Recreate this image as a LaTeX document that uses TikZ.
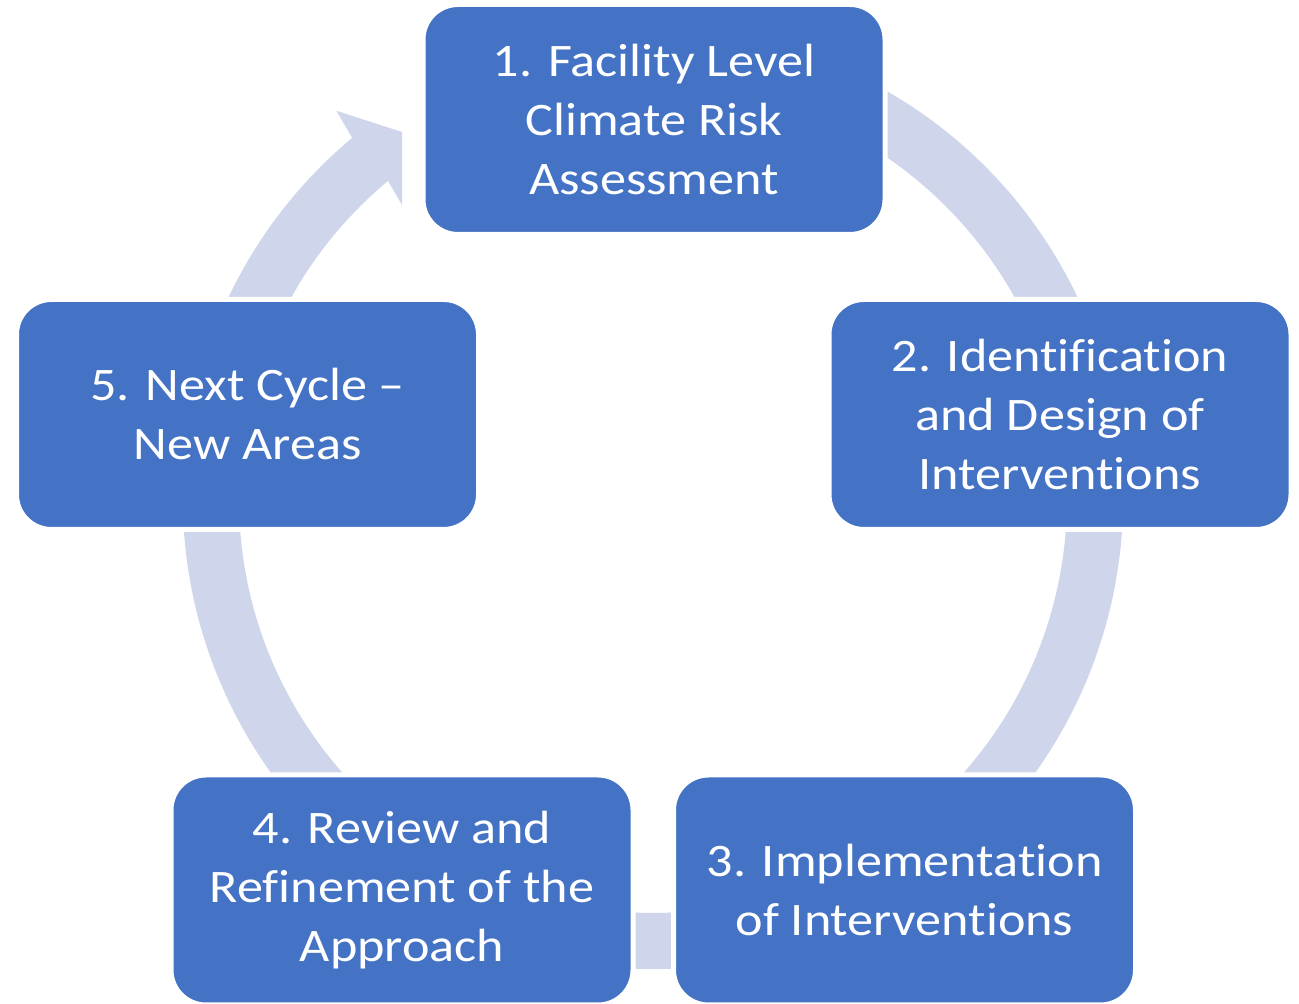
\documentclass[tikz,border=0pt]{standalone}
\usepackage{fontspec}
\setmainfont{Carlito}[FakeStretch=1.12, Ligatures={NoCommon}]
\usetikzlibrary{calc}
\definecolor{boxblue}{HTML}{4472C4}
\definecolor{ringcol}{HTML}{CFD5EA}
\tikzset{
  stagebox/.style={draw=white, line width=2.5pt, fill=boxblue, rounded corners=17.5pt,
    minimum width=231pt, minimum height=115pt, inner sep=0pt, align=center,
    text=white, font=\fontsize{23.3}{29.5}\selectfont},
  ringfill/.style={fill=ringcol}
}
\begin{document}
\begin{tikzpicture}[x=0.5pt,y=0.5pt]
\useasboundingbox (0,0) rectangle (1299,1004);
\coordinate (C) at (653,505);
% ring with arrow head
\fill[ringfill] ($(C)+(75:470)$) arc[start angle=75, end angle=-230.2, radius=235pt]
  -- ($(C)+(129.2:501)$) -- (402,872) -- (402,799)
  -- ($(C)+(129.8:414)$) arc[start angle=129.8, end angle=435, radius=207pt] -- cycle;
% boxes
\node[stagebox] (b1) at (654,884.5) {1. Facility Level\\Climate Risk\\Assessment};
\node[stagebox] (b2) at (1060,589.5) {2. Identification\\and Design of\\Interventions};
\node[stagebox] (b3) at (904.5,114) {3. Implementation\\of Interventions};
\node[stagebox] (b4) at (402,114) {4. Review and\\Refinement of the\\Approach};
\node[stagebox] (b5) at (247.5,589.5) {5. Next Cycle --\\New Areas};
\end{tikzpicture}
\end{document}
